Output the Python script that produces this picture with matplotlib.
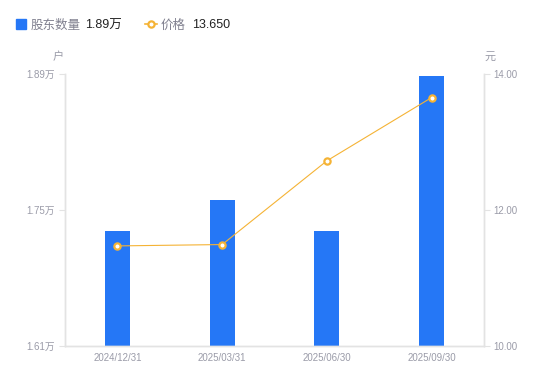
import matplotlib.pyplot as plt
from matplotlib.lines import Line2D

plt.rcParams['font.family'] = ['Liberation Sans', 'Noto Sans CJK SC', 'DejaVu Sans']

dates = ['2024/12/31', '2025/03/31', '2025/06/30', '2025/09/30']
holders = [1.728, 1.760, 1.728, 1.888]  # 万户
price = [11.47, 11.49, 12.72, 13.65]

left_ticks = [1.61, 1.75, 1.89]
left_labels = ['1.61万', '1.75万', '1.89万']
right_ticks = [10, 12, 14]
right_labels = ['10.00', '12.00', '14.00']

bar_color = '#2577F6'
line_color = '#F5B335'
tick_color = '#9A9BA8'
spine_color = '#E3E3E3'

fig = plt.figure(figsize=(5.5, 3.81), dpi=100)
ax = fig.add_axes([0.1182, 0.0919, 0.7618, 0.7147])
x = list(range(len(dates)))

ax.bar(x, holders, width=0.24, color=bar_color, zorder=2)
ax.set_xlim(-0.5, len(dates) - 0.5)
ax.set_ylim(1.61, 1.89)
ax.set_yticks(left_ticks)
ax.set_yticklabels(left_labels)
ax.set_xticks(x)
ax.set_xticklabels(dates)

ax2 = ax.twinx()
ax2.plot(x, price, color=line_color, lw=0.8, marker='o', markersize=4.5,
         markerfacecolor='white', markeredgecolor=line_color, markeredgewidth=1.6, zorder=3)
ax2.set_ylim(10, 14)
ax2.set_yticks(right_ticks)
ax2.set_yticklabels(right_labels)

for a in (ax, ax2):
    for s in a.spines.values():
        s.set_color(spine_color)
        s.set_linewidth(1)
    a.spines['top'].set_visible(False)
    a.tick_params(colors=tick_color, labelsize=7, length=4, width=0.8)
    a.tick_params(axis='y', color=spine_color)
ax.tick_params(axis='x', length=0, pad=5)
ax2.tick_params(axis='y', pad=3)

fig.text(58 / 550, 1 - 57 / 381, '户', color=tick_color, fontsize=8, ha='center', va='center')
fig.text(490 / 550, 1 - 57 / 381, '元', color=tick_color, fontsize=8, ha='center', va='center')

# legend header
ly = 1 - 24 / 381
ty = 1 - 25.5 / 381
fig.add_artist(Line2D([21 / 550], [ly], marker='s', markersize=6.5, color=bar_color, lw=0))
fig.text(31 / 550, ty, '股东数量', color='#80808F', fontsize=9, va='center')
fig.text(85 / 550, ty, '1.89万', color='#222222', fontsize=9, va='center')
fig.add_artist(Line2D([145 / 550, 157 / 550], [ly, ly], color=line_color, lw=1.2))
fig.add_artist(Line2D([151 / 550], [ly], marker='o', markersize=4.5, color=line_color,
                      markerfacecolor='white', markeredgewidth=1.6, lw=0))
fig.text(161 / 550, ty, '价格', color='#80808F', fontsize=9, va='center')
fig.text(192 / 550, ty, '13.650', color='#222222', fontsize=9, va='center')

fig.savefig('out.png', dpi=100)
